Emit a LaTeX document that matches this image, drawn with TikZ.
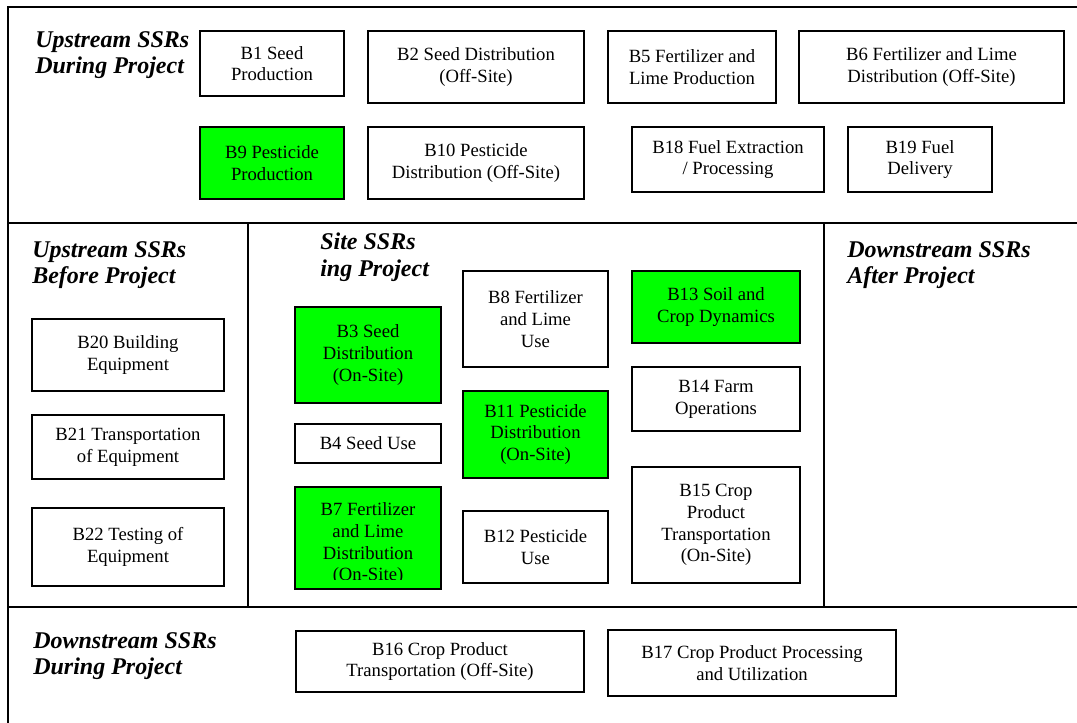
\documentclass[tikz,border=0pt]{standalone}
\usepackage{fontspec}
\setmainfont{Liberation Serif}
\usepackage{tikz}
\definecolor{ssrgreen}{RGB}{0,255,0}

\begin{document}
\begin{tikzpicture}[x=0.75pt,y=-0.75pt]
\tikzstyle{ssr}=[draw,line width=1.1pt,align=center,inner sep=1pt,font=\fontsize{14}{16.3}\selectfont];
\tikzstyle{hit}=[ssr,fill=ssrgreen];
\tikzstyle{sz}=[minimum width=#1*0.75pt];
\tikzstyle{ht}=[minimum height=#1*0.75pt];
\tikzstyle{head}=[anchor=north west,align=left,inner sep=0pt,font=\fontsize{18}{20}\selectfont\bfseries\itshape];
\tikzstyle{frame}=[line width=1.3pt];
\useasboundingbox (0,0) rectangle (1077,723);

\draw[frame] (1077,7) -- (8,7) -- (8,723);
\draw[frame] (8,223) -- (1077,223);
\draw[frame] (8,607) -- (1077,607);
\draw[frame] (248,223) -- (248,607);
\draw[frame] (824,223) -- (824,607);

\node[head] (hupdur) at (35,31) {Upstream SSRs\\During Project};
\node[ssr,sz=144,ht=65] (b1) at (272,63.5) {B1 Seed\\Production};
\node[ssr,sz=216,ht=72] (b2) at (476,67) {B2 Seed Distribution\\(Off-Site)};
\node[ssr,sz=168,ht=72] (b5) at (692,67) {B5 Fertilizer and\\Lime Production};
\node[ssr,sz=265,ht=72] (b6) at (931.5,67) {B6 Fertilizer and Lime\\Distribution (Off-Site)};
\node[hit,sz=144,ht=72] (b9) at (272,163) {B9 Pesticide\\Production};
\node[ssr,sz=216,ht=72] (b10) at (476,163) {B10 Pesticide\\Distribution (Off-Site)};
\node[ssr,sz=192,ht=65] (b18) at (728,159.5) {B18 Fuel Extraction\\/ Processing};
\node[ssr,sz=144,ht=65] (b19) at (920,159.5) {B19 Fuel\\Delivery};

\node[head] (hupbef) at (32,241) {Upstream SSRs\\Before Project};
\node[ssr,sz=192,ht=72] (b20) at (128,355) {B20 Building\\Equipment};
\node[ssr,sz=192,ht=64] (b21) at (128,447) {B21 Transportation\\of Equipment};
\node[ssr,sz=192,ht=78] (b22) at (128,547) {B22 Testing of\\Equipment};

\node[head] (hsite) at (320,233) {Site SSRs\\ing Project};
\node[hit,sz=146,ht=96] (b3) at (368,355) {B3 Seed\\Distribution\\(On-Site)};
\node[ssr,sz=146,ht=39] (b4) at (368,443.5) {B4 Seed Use};
\node[hit,sz=146,ht=102] (b7) at (368,538) {};
\begin{scope}
\clip (b7.north west) rectangle (441,579);
\node[ssr,draw=none,anchor=north,inner sep=0pt] (b7txt) at (368,502) {B7 Fertilizer\\and Lime\\Distribution\\(On-Site)};
\end{scope}
\node[ssr,sz=145,ht=96] (b8) at (535.5,319) {B8 Fertilizer\\and Lime\\Use};
\node[hit,sz=145,ht=87] (b11) at (535.5,434.5) {B11 Pesticide\\Distribution\\(On-Site)};
\node[ssr,sz=145,ht=72] (b12) at (535.5,547) {B12 Pesticide\\Use};
\node[hit,sz=168,ht=72] (b13) at (716,307) {B13 Soil and\\Crop Dynamics};
\node[ssr,sz=168,ht=64] (b14) at (716,399) {B14 Farm\\Operations};
\node[ssr,sz=168,ht=116] (b15) at (716,525) {B15 Crop\\Product\\Transportation\\(On-Site)};

\node[head] (hdnaft) at (847,241) {Downstream SSRs\\After Project};

\node[head] (hdndur) at (33,632) {Downstream SSRs\\During Project};
\node[ssr,sz=288,ht=61] (b16) at (440,661.5) {B16 Crop Product\\Transportation (Off-Site)};
\node[ssr,sz=288,ht=66] (b17) at (752,663) {B17 Crop Product Processing\\and Utilization};
\end{tikzpicture}
\end{document}
